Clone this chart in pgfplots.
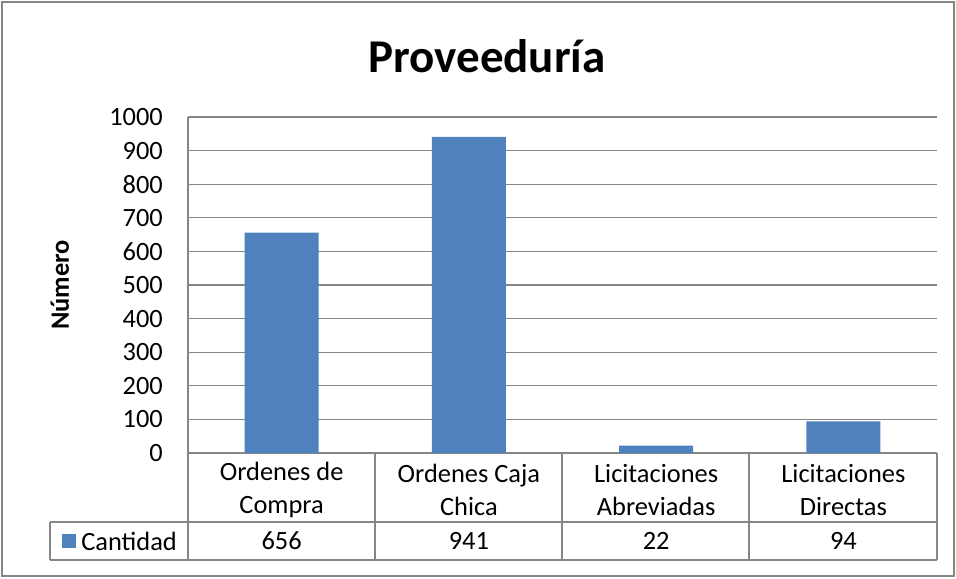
\documentclass[border=0pt]{standalone}
\usepackage{fontspec}
\setmainfont{Carlito}
\usepackage{pgfplots}
\usepackage{pgfplotstable}
\pgfplotsset{compat=1.18}
\definecolor{barblue}{HTML}{4F81BD}
\definecolor{gridgray}{HTML}{868686}

% datos de proveeduria
\pgfplotstableread{
x    n
0.5  656
1.5  941
2.5  22
3.5  94
}\proveeduria

\begin{document}
\fontsize{13.2}{16.5}\selectfont
\begin{tikzpicture}[x=0.5pt,y=0.5pt]
\useasboundingbox (0,0) rectangle (956,578);
\draw[gridgray,line width=0.8pt] (2,2) rectangle (954,576);
\node[anchor=base,font=\fontsize{23.5}{28}\selectfont\bfseries] at (487,505) {Proveeduría};

\begin{axis}[at={(94pt,62.5pt)},anchor=south west,
  scale only axis,width=374.5pt,height=168pt,
  xmin=0,xmax=4,ymin=0,ymax=1000,
  ytick distance=100,
  xtick={0.5,1.5,2.5,3.5},
  xticklabels={Ordenes de\\Compra,Ordenes Caja\\Chica,Licitaciones\\Abreviadas,Licitaciones\\Directas},
  xticklabel style={align=center,anchor=center,yshift=-18.5pt},
  yticklabel style={anchor=east,xshift=-8pt},
  major tick length=0pt,
  /pgf/number format/assume math mode=true,
  /pgf/number format/1000 sep={},
  ymajorgrids,grid style={gridgray,line width=0.6pt},
  axis lines*=left,axis line style={gridgray,line width=0.7pt,-},
  ylabel={Número},
  every axis y label/.style={at={(axis description cs:-0.171,0.5)},rotate=90,anchor=center,font=\bfseries},
  clip=false]
\addplot[ybar,bar width=37pt,fill=barblue,draw=none] table[x=x,y=n]{\proveeduria};
\addplot[draw=none,mark=none,nodes near coords,point meta=explicit,
  every node near coord/.append style={anchor=center,text=black}]
  table[x=x,y expr=-261.9,meta=n]{\proveeduria};
\end{axis}

% tabla de datos
\begin{scope}[gridgray,line width=0.75pt]
\draw (50,56) -- (937,56);
\draw (50,18) -- (937,18);
\draw (50,56) -- (50,18);
\foreach \xx in {188,375,562,749,937} \draw (\xx,125) -- (\xx,18);
\end{scope}
\fill[barblue] (62,30) rectangle (76,44);
\node[anchor=west,inner sep=0pt] at (81,37) {Cantidad};
\end{tikzpicture}
\end{document}
